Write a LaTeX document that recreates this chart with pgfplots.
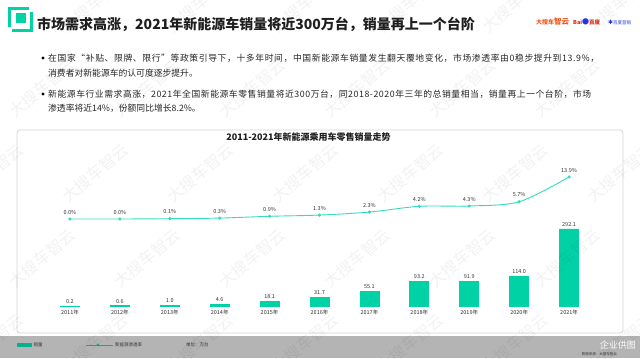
\documentclass[border=0pt]{standalone}
\usepackage{pgfplots}
\pgfplotsset{compat=1.18}
\usepackage{fontspec}
\setmainfont{Noto Sans CJK SC}
\newfontfamily\djv{DejaVu Sans}
\definecolor{barc}{HTML}{00D2A6}
\definecolor{lnc}{HTML}{33DDBB}
\definecolor{txt}{HTML}{333333}
\definecolor{foot}{HTML}{B4B4B4}
\definecolor{dsc}{HTML}{F15A24}
\definecolor{bdred}{HTML}{DE2910}
\definecolor{bdblue}{HTML}{2932E1}
\newcommand{\fs}[1]{\fontsize{#1bp}{#1bp}\selectfont}
\begin{document}
\begin{tikzpicture}[x=1bp,y=1bp]
\useasboundingbox (0,0) rectangle (640,358);
\fill[white] (0,0) rectangle (640,358);
% footer band
\fill[foot] (0,0) rectangle (640,22);
% chart panel
\draw[black!16, fill=white, rounded corners=3, line width=0.8] (17,25) rectangle (623,228);
% header icon
\draw[barc, line width=3.5] (9.75,327.75) rectangle (31.25,349.25);
\fill[white] (29,346) rectangle (34,352);
\fill[white] (7,325) rectangle (12,331);
\fill[barc] (16,335) rectangle (26,345);
% title
\node[anchor=west, inner sep=0, font=\fs{14}\bfseries, text=black!88] at (37,334) {市场需求高涨，2021年新能源车销量将近300万台，销量再上一个台阶};
% logos
\node[anchor=west, inner sep=0, font=\fs{6}\bfseries, text=dsc] at (536,336) {大搜车\fs{7.5}智云};
\node[anchor=west, inner sep=0, font=\fs{5.5}\bfseries] at (573,336) {\textcolor{bdred}{Bai}\textcolor{bdblue}{\fs{7}●}\textcolor{bdred}{百度}};
\node[anchor=west, inner sep=0, font=\fs{4.5}, text=bdblue] at (608,336) {{\djv\fs{6}✱}\fs{4.5}百度营销};
% bullets
\fill[black] (43,300) circle (1.7);
\fill[black] (43,264) circle (1.7);
\begin{scope}[every node/.style={anchor=west, inner sep=0, font=\fs{8.8}, text=black!85}]
\node at (48,300) {\addfontfeatures{LetterSpace=7}在国家“补贴、限牌、限行”等政策引导下，十多年时间，中国新能源车销量发生翻天覆地变化，市场渗透率由0稳步提升到13.9\%，};
\node at (48,285) {消费者对新能源车的认可度逐步提升。};
\node at (48,264) {\addfontfeatures{LetterSpace=6.3}新能源车行业需求高涨，2021年全国新能源车零售销量将近300万台，同2018-2020年三年的总销量相当，销量再上一个台阶，市场};
\node at (48,250) {渗透率将近14\%，份额同比增长8.2\%。};
\end{scope}
% chart title
\node[font=\fs{9}\bfseries, text=black!88] at (308.5,221) {2011-2021年新能源乘用车零售销量走势};
% bars
\begin{axis}[
  at={(45bp,52bp)}, anchor=south west, scale only axis,
  width=549bp, height=100bp,
  xmin=-0.5, xmax=10.5, ymin=0, ymax=379,
  axis line style={draw=none}, ytick=\empty,
  xtick={0,...,10},
  xticklabels={2011年,2012年,2013年,2014年,2015年,2016年,2017年,2018年,2019年,2020年,2021年},
  major tick length=0pt,
  xticklabel style={font=\fs{5.5}, text=txt},
  clip=false,
  /pgf/number format/assume math mode=true,
]
\addplot[ybar, bar width=19bp, fill=barc, draw=barc, line width=0.8bp,
  nodes near coords={\pgfmathprintnumber[fixed,precision=1,zerofill]{\pgfplotspointmeta}},
  every node near coord/.append style={font=\fs{5.5}, text=txt, yshift=-1bp}]
coordinates {(0,0.2) (1,0.6) (2,1.0) (3,4.6) (4,18.1) (5,31.7) (6,55.1) (7,93.2) (8,91.9) (9,114.0) (10,292.1)};
\end{axis}
% penetration line
\begin{axis}[
  at={(45bp,139bp)}, anchor=south west, scale only axis,
  width=549bp, height=60.4bp,
  xmin=-0.5, xmax=10.5, ymin=0, ymax=20,
  hide axis, clip=false,
  /pgf/number format/assume math mode=true,
]
\addplot[smooth, color=lnc, line width=0.9bp, mark=*, mark size=1.1bp,
  nodes near coords={\pgfmathprintnumber[fixed,precision=1,zerofill]{\pgfplotspointmeta}\%},
  every node near coord/.append style={font=\fs{5.5}, text=txt, yshift=1bp}]
coordinates {(0,0.0) (1,0.0) (2,0.1) (3,0.3) (4,0.9) (5,1.3) (6,2.3) (7,4.2) (8,4.3) (9,5.7) (10,13.9)};
\end{axis}
% footer legend
\fill[barc!85!black] (17,11) rectangle (32,15);
\node[anchor=west, inner sep=0, font=\fs{4.5}, text=black!80] at (33.5,13) {销量};
\draw[barc!85!black, line width=0.8] (86,13) -- (113,13);
\fill[barc!85!black] (98,13) circle (1.3);
\node[anchor=west, inner sep=0, font=\fs{4.5}, text=black!80] at (115,13) {新能源渗透率};
\node[anchor=west, inner sep=0, font=\fs{4.5}, text=black!80] at (186,13) {单位：万台};
\node[anchor=east, inner sep=0, font=\fs{9}, text=white] at (636,13) {企业供图};
\node[anchor=east, inner sep=0, font=\fs{3.5}, text=black!80] at (617,4) {数据来源：大搜车智云};
% watermark
\foreach \i in {0,...,6} {
  \foreach \j in {0,...,4} {
    \node[rotate=40, text=black, opacity=0.05, font=\fs{16}] at ({\i*105 + mod(\j,2)*52 - 10}, {\j*85+15}) {大搜车智云};
  }
}
\end{tikzpicture}
\end{document}
